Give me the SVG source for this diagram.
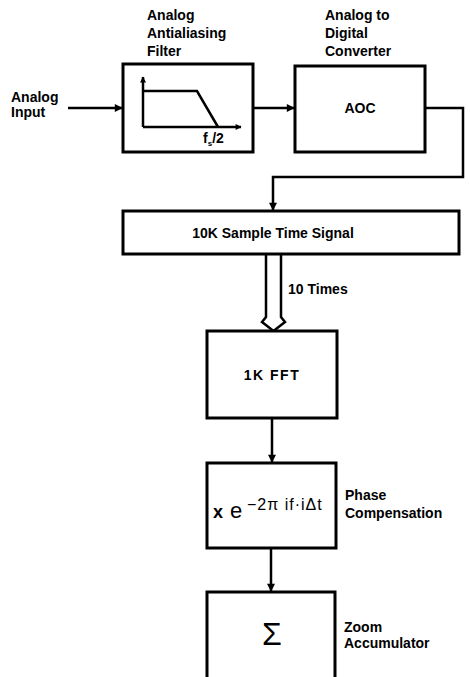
<svg xmlns="http://www.w3.org/2000/svg" width="470" height="677" viewBox="0 0 470 677">
<defs>
<marker id="ah" viewBox="0 0 10 10" refX="9" refY="5" markerWidth="9" markerHeight="8" markerUnits="userSpaceOnUse" orient="auto">
<path d="M0,0 L10,5 L0,10 Z" fill="#000"/>
</marker>
<marker id="ahs" viewBox="0 0 10 10" refX="9" refY="5" markerWidth="7" markerHeight="6" markerUnits="userSpaceOnUse" orient="auto">
<path d="M0,0 L10,5 L0,10 Z" fill="#000"/>
</marker>
</defs>
<style>
.box{fill:#fff;stroke:#000;stroke-width:3}
.ln{fill:none;stroke:#000;stroke-width:2.5}
.t{font-family:"Liberation Sans",Arial,sans-serif;font-weight:bold;font-size:14px;fill:#000}
.c{text-anchor:middle}
</style>
<rect width="470" height="677" fill="#fff"/>
<g id="connectors">
<line class="ln" x1="68" y1="108" x2="122" y2="108" marker-end="url(#ah)"/>
<line class="ln" x1="253" y1="108" x2="294" y2="108" marker-end="url(#ah)"/>
<path class="ln" d="M425,108 H463 V177 H273 V210" marker-end="url(#ah)"/>
<path d="M266,254 V317 L262,322 L273.5,331 L285,322 L281,317 V254" fill="#fff" stroke="#000" stroke-width="2.5" stroke-linejoin="miter"/>
<line class="ln" x1="272" y1="418" x2="272" y2="462" marker-end="url(#ah)"/>
<line class="ln" x1="271" y1="548" x2="271" y2="591" marker-end="url(#ah)"/>
</g>
<g id="input">
<text class="t" x="11" y="102">Analog</text>
<text class="t" x="11" y="117">Input</text>
</g>
<g id="filter">
<text class="t" x="147" y="20">Analog</text>
<text class="t" x="147" y="38">Antialiasing</text>
<text class="t" x="147" y="56">Filter</text>
<rect class="box" x="123" y="64" width="130" height="88"/>
<line class="ln" x1="143" y1="127" x2="143" y2="77" marker-end="url(#ahs)"/>
<line class="ln" x1="143" y1="127" x2="241" y2="127" marker-end="url(#ahs)"/>
<polyline class="ln" points="143,91 197,91 218,127"/>
<text class="t" x="203" y="143" font-size="12">f<tspan font-size="8" dy="3">s</tspan><tspan dy="-3">/2</tspan></text>
</g>
<g id="adc">
<text class="t" x="325" y="20">Analog to</text>
<text class="t" x="325" y="38">Digital</text>
<text class="t" x="325" y="56">Converter</text>
<rect class="box" x="295" y="66" width="130" height="86"/>
<text class="t c" x="360" y="113" font-size="14.5">AOC</text>
</g>
<g id="samples">
<rect class="box" x="123" y="211" width="336" height="43"/>
<text class="t c" x="273" y="238" font-size="14.5">10K Sample Time Signal</text>
<text class="t" x="288" y="294" font-size="14.5">10 Times</text>
</g>
<g id="fft">
<rect class="box" x="207" y="331" width="130" height="87"/>
<text class="t c" x="272" y="380" font-size="15" letter-spacing="1.5">1K FFT</text>
</g>
<g id="phase">
<rect class="box" x="207" y="463" width="129" height="85"/>
<text font-family="Liberation Sans,Arial,sans-serif" font-weight="bold" fill="#000"><tspan x="213" y="518" font-size="18">x</tspan><tspan x="230" y="518" font-size="22" font-weight="normal">e</tspan><tspan x="247" y="510" font-size="16" font-weight="normal" letter-spacing="1">−2π if·iΔt</tspan></text>
<text class="t" x="345" y="500" font-size="13">Phase</text>
<text class="t" x="345" y="518">Compensation</text>
</g>
<g id="accumulator">
<rect class="box" x="207" y="592" width="128" height="100"/>
<text class="c" x="272" y="645" font-family="Liberation Sans,Arial,sans-serif" font-size="32" fill="#000">Σ</text>
<text class="t" x="344" y="632">Zoom</text>
<text class="t" x="344" y="648">Accumulator</text>
</g>
</svg>
